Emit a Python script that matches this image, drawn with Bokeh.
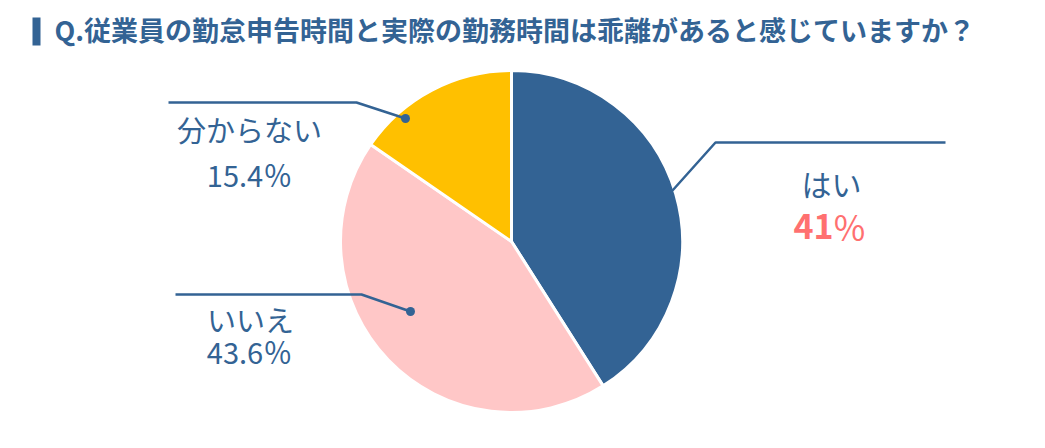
import math
from bokeh.plotting import figure
from bokeh.models import Range1d, ColumnDataSource
from bokeh.core.properties import value
from bokeh.embed import file_html
from bokeh.resources import INLINE

title = "Q.従業員の勤怠申告時間と実際の勤務時間は乖離があると感じていますか？"
categories = ["はい", "いいえ", "分からない"]
values = [41.0, 43.6, 15.4]
value_labels = ["41", "43.6", "15.4"]
pct_sign = "％"
colors = ["#336394", "#FFC7C7", "#FFC000"]

BLUE = "#336394"
W, H = 1029, 432
FONT = "Noto Sans CJK JP"

def Y(py):
    return 448 - py

p = figure(width=W, height=H, output_backend="svg", toolbar_location=None,
           x_range=Range1d(0, W), y_range=Range1d(448 - H, 448),
           min_border=0)
p.axis.visible = False
p.grid.visible = False
p.outline_line_color = None
p.background_fill_color = "white"

# pie
cx, cy, r = 511, Y(241), 171
total = sum(values)
starts, ends = [], []
a = math.pi / 2
for v in values:
    starts.append(a)
    a -= v / total * 2 * math.pi
    ends.append(a)
src = ColumnDataSource(dict(start=starts, end=ends, color=colors))
p.wedge(x=cx, y=cy, radius=r, start_angle="start", end_angle="end",
        direction="clock", fill_color="color", line_color="white", line_width=3,
        source=src)

# title
p.quad(left=32, right=40, top=Y(17), bottom=Y(45), fill_color=BLUE, line_color=None)
p.text(x=[54], y=[Y(29)], text=[title], text_font=value(FONT), text_font_size="27px",
       text_font_style="bold", text_color=BLUE, text_baseline="middle", text_align="left")

# leader lines
p.line(x=[672, 715, 945], y=[Y(190), Y(142), Y(142)], line_color=BLUE, line_width=2.5)
p.line(x=[175, 361, 410], y=[Y(294), Y(294), Y(311)], line_color=BLUE, line_width=2.5)
p.line(x=[168, 356, 405], y=[Y(102), Y(102), Y(118)], line_color=BLUE, line_width=2.5)
p.scatter(x=[410, 405], y=[Y(311), Y(118)], size=9, fill_color=BLUE, line_color=None)

# labels
p.text(x=[831], y=[Y(182)], text=[categories[0]], text_font=value(FONT), text_font_size="30px",
       text_color=BLUE, text_baseline="middle", text_align="center")
p.text(x=[833], y=[Y(226)], text=[value_labels[0]], text_font=value(FONT), text_font_size="34px",
       text_font_style="bold", text_color="#FF7070", text_baseline="middle", text_align="right")
p.text(x=[832], y=[Y(226)], text=[pct_sign], text_font=value(FONT), text_font_size="34px",
       text_color="#FF7070", text_baseline="middle", text_align="left")

p.text(x=[250], y=[Y(318)], text=[categories[1]], text_font=value(FONT), text_font_size="29px",
       text_color=BLUE, text_baseline="middle", text_align="center")
p.text(x=[249], y=[Y(350)], text=[value_labels[1] + pct_sign], text_font=value(FONT), text_font_size="29px",
       text_color=BLUE, text_baseline="middle", text_align="center")

p.text(x=[249], y=[Y(128)], text=[categories[2]], text_font=value(FONT), text_font_size="29px",
       text_color=BLUE, text_baseline="middle", text_align="center")
p.text(x=[249], y=[Y(173)], text=[value_labels[2] + pct_sign], text_font=value(FONT), text_font_size="29px",
       text_color=BLUE, text_baseline="middle", text_align="center")

open("out.html", "w").write(file_html(p, INLINE))
